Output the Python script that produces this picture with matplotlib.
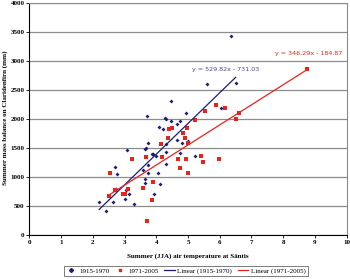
import matplotlib
matplotlib.use("Agg")
import matplotlib.pyplot as plt
import numpy as np
from matplotlib.lines import Line2D

# 1915-1970 (blue diamonds)
x_early = [2.19, 2.42, 2.63, 2.71, 2.75, 2.74, 3.02, 3.07, 3.05, 3.13, 3.30, 3.57,
           3.66, 3.73, 3.63, 3.63, 3.73, 3.73, 3.88, 3.94, 4.06, 4.13, 4.31, 4.31,
           3.72, 4.45, 4.28, 4.32, 4.09, 4.20, 4.45, 4.81, 4.76, 5.21, 6.35, 5.59,
           6.50, 4.94, 6.05, 4.64, 4.75, 3.89, 4.31, 4.64, 5.01, 4.00, 3.68]
y_early = [569, 409, 564, 1167, 1041, 788, 610, 1455, 770, 707, 524, 1120,
           1483, 1575, 955, 900, 1058, 1202, 1386, 696, 1058, 868, 1219, 1563,
           2052, 2305, 2007, 1990, 1852, 1817, 1960, 1586, 1403, 1351, 3426, 2593,
           2621, 2093, 2179, 1903, 1960, 1386, 1420, 1633, 1615, 1350, 1500]

# 1971-2005 (red squares)
x_late = [2.50, 2.55, 2.70, 2.94, 3.00, 3.11, 3.25, 3.57, 3.67, 3.72, 3.91, 3.88,
          4.15, 4.19, 4.41, 4.38, 4.99, 4.68, 4.75, 4.94, 5.41, 5.48, 5.97, 4.99,
          8.74, 5.55, 5.87, 6.16, 5.22, 6.60, 6.51, 4.96, 4.85, 4.91, 4.49]
y_late = [667, 1058, 770, 707, 707, 783, 1305, 811, 1345, 236, 908, 598,
          1563, 1345, 1822, 1662, 1586, 1310, 1150, 1300, 1357, 1248, 1300, 1064,
          2857, 2140, 2231, 2179, 1977, 2093, 1990, 1845, 1748, 1672, 1845]

# trend lines (from chart equations)
fit_early = (529.82, -731.03)
fit_late = (346.29, -184.87)
xr_early = [2.2, 6.5]
xr_late = [2.5, 8.74]

blue = "#1c1c78"
red = "#e8231c"

fig = plt.figure(figsize=(3.5, 2.79), dpi=100)
ax = fig.add_axes([29.3/350, 1 - 234.7/279, (346.7-29.3)/350, (234.7-2.7)/279])

ax.set_xlim(0, 10)
ax.set_ylim(0, 4000)
ax.set_yticks(np.arange(0, 4001, 500))
ax.set_xticks(np.arange(0, 11, 1))
ax.yaxis.grid(True, color="#8c8c8c", linewidth=0.9)
ax.set_axisbelow(True)

for s in ["top", "right"]:
    ax.spines[s].set_color("#8c8c8c")
    ax.spines[s].set_linewidth(0.8)
ax.spines["left"].set_linewidth(0.8)
ax.spines["bottom"].set_linewidth(0.8)

ax.scatter(x_early, y_early, marker="D", s=4, color=blue, zorder=3, linewidths=0)
ax.scatter(x_late, y_late, marker="s", s=6, color=red, zorder=3, linewidths=0)

xe = np.array(xr_early)
xl = np.array(xr_late)
ax.plot(xe, fit_early[0]*xe + fit_early[1], color=blue, lw=0.9, zorder=4)
ax.plot(xl, fit_late[0]*xl + fit_late[1], color=red, lw=0.9, zorder=4)

ax.text(6.2, 2840, "y = 529.82x - 731.03", color="#4a4a8a", fontsize=4.6,
        ha="center", va="center", family="DejaVu Sans")
ax.text(8.8, 3127, "y = 346.29x - 184.87", color=red, fontsize=4.6,
        ha="center", va="center", family="DejaVu Sans")

tickfont = dict(family="Liberation Serif", weight="bold", size=5)
ax.tick_params(axis="both", length=2, width=0.6, pad=1.5)
for lbl in ax.get_xticklabels() + ax.get_yticklabels():
    lbl.set_fontfamily("Liberation Serif")
    lbl.set_fontweight("bold")
    lbl.set_fontsize(5)

fig.text(188/350, 1 - 256/279, "Summer (JJA) air temperature at Säntis",
         ha="center", va="center", **tickfont)
fig.text(5/350, 1 - 118/279, "Summer mass balance on Claridenfirn (mm)",
         ha="center", va="center", rotation=90, **tickfont)

handles = [
    Line2D([], [], marker="D", ls="none", color=blue, markersize=2),
    Line2D([], [], marker="s", ls="none", color=red, markersize=2),
    Line2D([], [], color=blue, lw=0.9),
    Line2D([], [], color=red, lw=0.9),
]
labels = ["1915-1970", "1971-2005", "Linear (1915-1970)", "Linear (1971-2005)"]
leg = fig.legend(handles, labels, loc="center", bbox_to_anchor=(186/350, 1 - 271/279),
                 ncol=4, prop=dict(family="Liberation Serif", size=5),
                 frameon=True, fancybox=False, edgecolor="#404040",
                 handlelength=1.5, handletextpad=0.4, columnspacing=0.8,
                 borderpad=0.3)
leg.get_frame().set_linewidth(0.6)

fig.savefig("out.png", dpi=100)
